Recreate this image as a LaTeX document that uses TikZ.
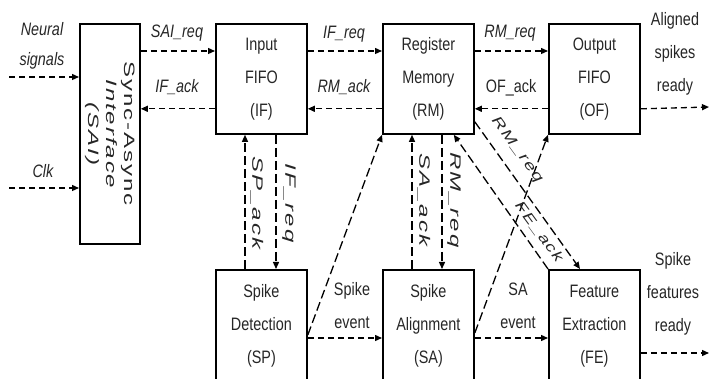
\documentclass[tikz,border=0pt]{standalone}
\usepackage{fontspec}
\setmainfont{Liberation Sans}[FakeStretch=0.8]
\newfontfamily\rotfont{Liberation Sans}[LetterSpace=8]
\usetikzlibrary{arrows.meta}
\begin{document}
\begin{tikzpicture}[x=1pt,y=-1pt,
  box/.style={draw, line width=1.8pt, inner sep=0pt, minimum width=91pt, minimum height=110pt,
    align=center, anchor=north west, text=black!85, font=\fontsize{18}{33}\selectfont},
  sig/.style={line width=1.3pt, dash pattern=on 6pt off 4pt, -{Triangle[length=7pt,width=6pt]}},
  longsig/.style={sig, dash pattern=on 9pt off 4pt},
  lbl/.style={inner sep=0pt, align=center, text=black!85, font=\fontsize{18}{30}\selectfont\itshape},
  ulbl/.style={inner sep=0pt, align=center, text=black!85, font=\fontsize{18}{33}\selectfont},
  rlbl/.style={inner sep=0pt, align=center, text=black!85, font=\rotfont\fontsize{15}{18}\selectfont\itshape},
  dlbl/.style={inner sep=0pt, align=center, text=black!85, font=\rotfont\fontsize{14}{18}\selectfont\itshape}
]
\useasboundingbox (0,0) rectangle (710,379);

% boxes
\node[box, minimum width=60pt, minimum height=220pt] (SAI) at (79,23) {};
\node[rotate=-90, xscale=1.6, inner sep=0pt, align=center, text=black!85, font=\rotfont\fontsize{15}{18}\selectfont] (saitxt) at (SAI.center) {Sync-Async\\{\itshape Interface}\\{\itshape (SAI)}};
\node[box] (IF) at (215,23) {Input\\FIFO\\(IF)};
\node[box] (RM) at (382,23) {Register\\Memory\\(RM)};
\node[box] (OF) at (548,23) {Output\\FIFO\\(OF)};
\node[box, minimum height=112pt] (SP) at (215,269) {Spike\\Detection\\(SP)};
\node[box, minimum height=112pt] (SA) at (382,269) {Spike\\Alignment\\(SA)};
\node[box, minimum height=112pt] (FE) at (548,269) {Feature\\Extraction\\(FE)};

% free ends
\coordinate (nin) at (9,77);
\coordinate (clkin) at (9,188);
\coordinate (alout) at (709,107);
\coordinate (sfout) at (709,353);

% inputs
\draw[sig] (nin) -- (nin -| SAI.west);
\draw[sig] (clkin) -- (clkin -| SAI.west);

% top row
\draw[sig] ([yshift=-28pt]SAI.north east) -- ([yshift=-28pt]IF.north west);
\draw[sig] ([yshift=26pt]IF.south west) coordinate (ifack) -- (ifack -| SAI.east);
\draw[sig] ([yshift=-28pt]IF.north east) -- ([yshift=-28pt]RM.north west);
\draw[sig] ([yshift=26pt]RM.south west) -- ([yshift=26pt]IF.south east);
\draw[sig] ([yshift=-28pt]RM.north east) -- ([yshift=-28pt]OF.north west);
\draw[sig] ([yshift=26pt]OF.south west) -- ([yshift=26pt]RM.south east);
\draw[sig] ([yshift=26pt]OF.south east) -- (alout);

% verticals
\draw[longsig] ([xshift=30pt]SP.north west) -- ([xshift=30pt]IF.south west);
\draw[longsig] ([xshift=61pt]IF.south west) -- ([xshift=61pt]SP.north west);
\draw[longsig] ([xshift=30pt]SA.north west) -- ([xshift=30pt]RM.south west);
\draw[longsig] ([xshift=60pt]RM.south west) -- ([xshift=60pt]SA.north west);

% bottom row
\draw[sig] ([yshift=-69pt]SP.north east) -- ([yshift=-69pt]SA.north west);
\draw[sig] ([yshift=-69pt]SA.north east) -- ([yshift=-69pt]FE.north west);
\draw[sig] ([yshift=-84pt]FE.north east) -- (sfout);

% diagonals
\draw[longsig] ([yshift=-66pt]SP.north east) -- (RM.south west);
\draw[longsig] ([yshift=-64pt]SA.north east) -- (OF.south west);
\draw[longsig] ([yshift=13pt]RM.south east) -- ([xshift=32pt]FE.north west);
\draw[longsig] (FE.north west) -- ([xshift=-21pt]RM.south east);

% labels
\node[lbl] (lneural) at (42,46) {Neural\\signals};
\node[lbl] (lclk) at (43,171) {Clk};
\node[lbl, anchor=base] (lsaireq) at (177,38) {SAI\_req};
\node[lbl, anchor=base] (lifack) at (177,93) {IF\_ack};
\node[lbl, anchor=base] (lifreq) at (344,39) {IF\_req};
\node[lbl, anchor=base] (lrmack) at (344,93) {RM\_ack};
\node[lbl, anchor=base] (lrmreq) at (510,38) {RM\_req};
\node[ulbl, anchor=base] (lofack) at (511,93) {OF\_ack};
\node[ulbl] (laligned) at (675,54) {Aligned\\spikes\\ready};
\node[ulbl] (lspfeat) at (673,294) {Spike\\features\\ready};
\node[ulbl] (lspev) at (352,306) {Spike\\event};
\node[ulbl] (lsaev) at (518,306) {SA\\event};

\node[rlbl, rotate=-90, xscale=1.6] (lspack) at (257,203) {SP\_ack};
\node[rlbl, rotate=-90, xscale=1.6] (lifreqv) at (289,203) {IF\_req};
\node[rlbl, rotate=-90, xscale=1.6] (lsaack) at (424,200) {SA\_ack};
\node[rlbl, rotate=-90, xscale=1.6] (lrmreqv) at (454,200) {RM\_req};
\node[dlbl, rotate=-54, xscale=1.4] (lrmreqd) at (517,150) {RM\_req};
\node[dlbl, rotate=-54, xscale=1.35] (lfeack) at (539,232) {FE\_ack};
\end{tikzpicture}
\end{document}
